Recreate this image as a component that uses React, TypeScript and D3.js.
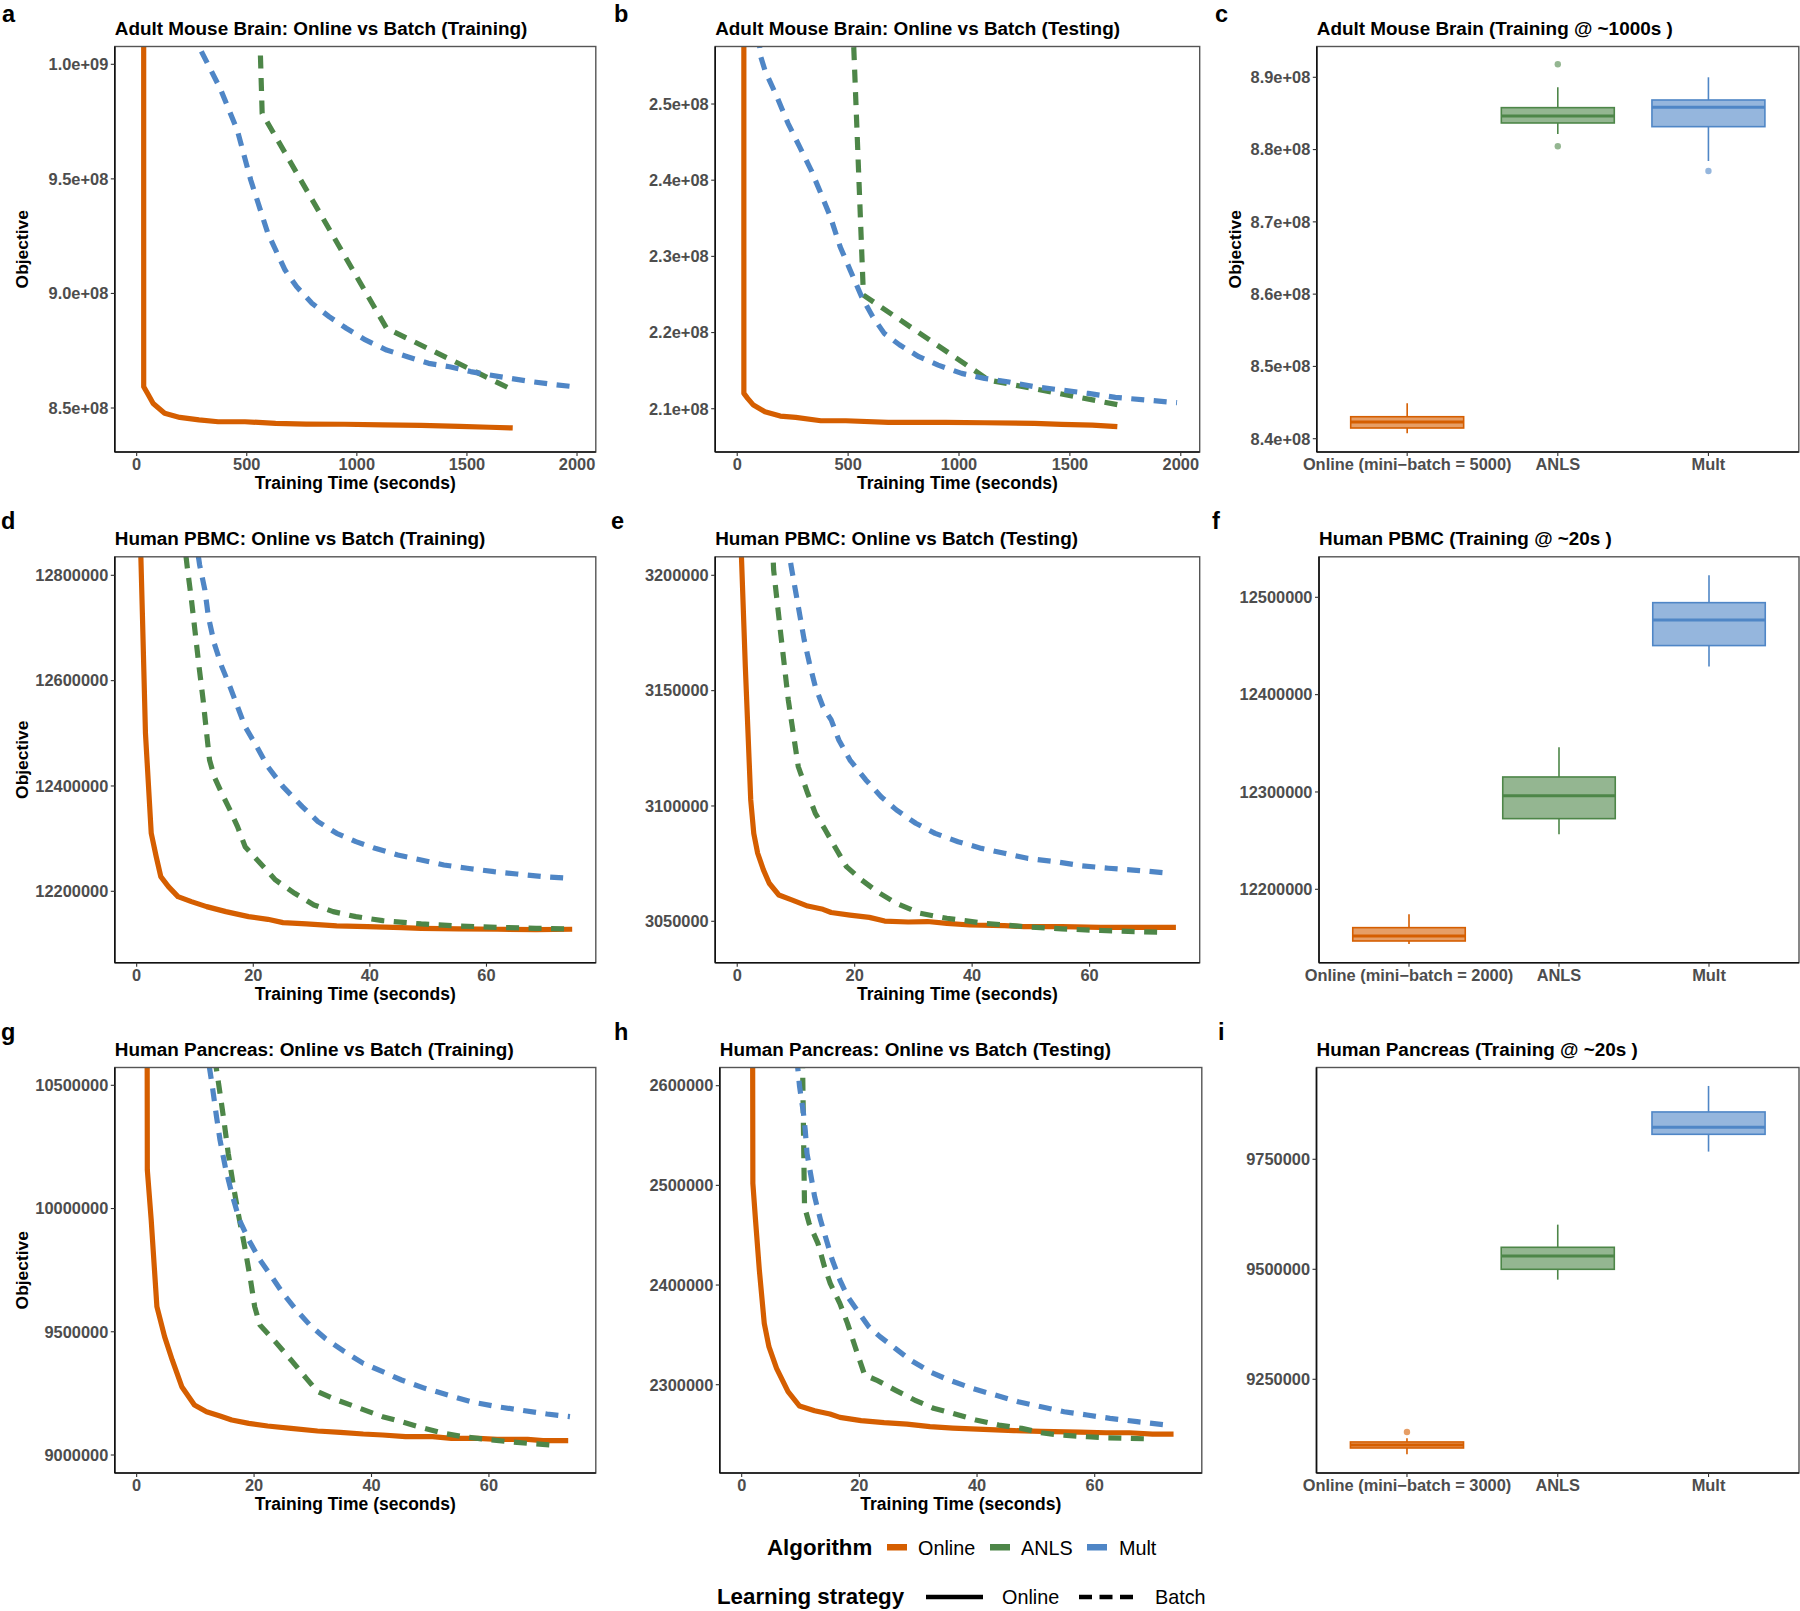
import React from 'react';
import * as d3 from 'd3';

// ---------- colours ----------
const COL: Record<string, string> = { Online: '#D55E00', ANLS: '#4D8648', Mult: '#4F86C6' };

// ---------- Panel a : Adult Mouse Brain (Training) ----------
const aOnlineTime = [0, 32, 49, 75, 127, 196, 283, 370, 492, 631, 770, 944, 1117, 1291, 1465, 1604, 1708];
const aOnlineObj = [5.0e10, 8.593e8, 8.564e8, 8.52e8, 8.477e8, 8.459e8, 8.448e8, 8.44e8, 8.44e8, 8.433e8, 8.43e8, 8.429e8, 8.426e8, 8.424e8, 8.42e8, 8.416e8, 8.413e8];
const aANLSTime = [0, 570, 1135, 1712];
const aANLSObj = [2.8e9, 9.786e8, 8.848e8, 8.577e8];
const aMultTime = [0, 180, 283, 379, 457, 518, 596, 674, 726, 796, 874, 952, 1039, 1135, 1230, 1326, 1421, 1517, 1604, 1699, 1795, 1891, 1986];
const aMultObj = [1.15e9, 1.045e9, 1.0077e9, 9.895e8, 9.713e8, 9.495e8, 9.262e8, 9.102e8, 9.03e8, 8.957e8, 8.899e8, 8.848e8, 8.797e8, 8.753e8, 8.724e8, 8.695e8, 8.68e8, 8.659e8, 8.644e8, 8.629e8, 8.615e8, 8.603e8, 8.593e8];

// ---------- Panel b : Adult Mouse Brain (Testing) ----------
const bOnlineTime = [0, 30, 47, 73, 125, 194, 264, 377, 490, 681, 941, 1115, 1340, 1462, 1601, 1714];
const bOnlineObj = [1.5e10, 2.1201e8, 2.1136e8, 2.1048e8, 2.0961e8, 2.0904e8, 2.0886e8, 2.0842e8, 2.0842e8, 2.0821e8, 2.0821e8, 2.0816e8, 2.0807e8, 2.0794e8, 2.0786e8, 2.0764e8];
const bANLSTime = [0, 569, 1134, 1724];
const bANLSObj = [6.5e8, 2.2492e8, 2.1376e8, 2.1048e8];
const bMultTime = [85, 106, 127, 179, 229, 281, 333, 377, 420, 464, 509, 561, 611, 663, 733, 819, 906, 1012, 1115, 1219, 1340, 1462, 1583, 1705, 1844, 1983];
const bMultObj = [2.62e8, 2.562e8, 2.5425e8, 2.5096e8, 2.4746e8, 2.444e8, 2.4133e8, 2.3827e8, 2.3521e8, 2.3127e8, 2.2821e8, 2.247e8, 2.2208e8, 2.1989e8, 2.1836e8, 2.1683e8, 2.1573e8, 2.1464e8, 2.1398e8, 2.1354e8, 2.1289e8, 2.1245e8, 2.1201e8, 2.1149e8, 2.1114e8, 2.1079e8];

// ---------- Panel c : Adult Mouse Brain boxplot ----------
const cCats = ['Online (mini\u2212batch = 5000)', 'ANLS', 'Mult'];
const cWhiskerLow = [8.4074e8, 8.8216e8, 8.7842e8];
const cQ1 = [8.4148e8, 8.8368e8, 8.8317e8];
const cMedian = [8.4231e8, 8.8465e8, 8.8585e8];
const cQ3 = [8.4304e8, 8.858e8, 8.8686e8];
const cWhiskerHigh = [8.4489e8, 8.8862e8, 8.9e8];
const cOutliers = [[], [8.918e8, 8.8045e8], [8.7704e8]];

// ---------- Panel d : Human PBMC (Training) ----------
const dOnlineTime = [0, 0.98, 1.51, 2.5, 3.35, 4.14, 5.45, 7.09, 9.39, 12.0, 15.3, 19.2, 22.5, 25.1, 29.1, 34.3, 39.6, 45.5, 48.8, 55.3, 61.9, 68.5, 74.7];
const dOnlineObj = [13134000, 12727800, 12500000, 12310100, 12265800, 12227800, 12208900, 12189900, 12180400, 12170900, 12161400, 12151900, 12146800, 12140500, 12138000, 12134200, 12132900, 12131000, 12129700, 12128500, 12127900, 12127200, 12127900];
const dANLSTime = [8.0, 8.7, 9.4, 10.05, 10.7, 11.4, 12.0, 12.5, 13.3, 14.6, 16.0, 17.3, 18.6, 21.2, 23.8, 27.1, 30.4, 33.7, 37.6, 42.2, 48.8, 55.3, 61.9, 68.5, 73.7];
const dANLSObj = [12880000, 12813300, 12753100, 12689900, 12626600, 12563300, 12500000, 12449400, 12417700, 12386100, 12354400, 12322800, 12284800, 12253200, 12221500, 12196200, 12174100, 12161400, 12151900, 12144300, 12138000, 12134200, 12131600, 12129700, 12128500];
const dMultTime = [10.0, 10.8, 11.7, 12.3, 13.3, 14.6, 16.0, 17.3, 18.6, 20.6, 22.5, 25.1, 28.4, 31.1, 34.3, 37.6, 40.9, 44.8, 48.8, 52.7, 56.7, 61.3, 65.2, 69.8, 74.1];
const dMultObj = [12880000, 12819600, 12772100, 12721500, 12670900, 12626600, 12588600, 12550600, 12512700, 12474700, 12436700, 12398700, 12360800, 12332300, 12310100, 12294300, 12281600, 12269000, 12259500, 12250000, 12243700, 12237300, 12232900, 12227800, 12224700];

// ---------- Panel e : Human PBMC (Testing) ----------
const eOnlineTime = [0, 0.98, 1.38, 1.84, 2.3, 2.82, 3.48, 4.46, 5.45, 7.09, 9.39, 12.0, 14.6, 16.0, 19.2, 22.5, 25.1, 29.1, 32.4, 35.7, 39.6, 45.5, 48.8, 55.3, 61.9, 68.5, 74.7];
const eOnlineObj = [3260000, 3189300, 3160400, 3131500, 3102600, 3088100, 3079500, 3072300, 3066500, 3061400, 3059200, 3056600, 3055200, 3053800, 3052700, 3051700, 3050100, 3049700, 3049900, 3049100, 3048400, 3048100, 3047700, 3047700, 3047400, 3047400, 3047400];
const eANLSTime = [5.8, 6.2, 7.4, 8.7, 10.4, 12.0, 13.3, 15.0, 16.6, 18.6, 21.2, 23.8, 27.1, 31.1, 35.7, 42.2, 48.8, 55.3, 61.9, 68.5, 73.1];
const eANLSObj = [3225000, 3202300, 3174800, 3145900, 3117000, 3105500, 3096800, 3089600, 3082400, 3073700, 3067900, 3062900, 3057800, 3053500, 3051300, 3049100, 3047700, 3046700, 3046000, 3045500, 3045200];
const eMultTime = [8.5, 9.2, 10.0, 10.7, 11.4, 12.3, 13.3, 14.6, 16.0, 17.3, 19.2, 21.9, 24.5, 27.1, 30.4, 33.7, 37.6, 41.6, 45.5, 49.4, 54.0, 58.6, 63.2, 68.5, 73.7];
const eMultObj = [3215000, 3203700, 3192200, 3182100, 3172000, 3161800, 3151700, 3143000, 3137300, 3128600, 3119900, 3111300, 3104000, 3098300, 3092500, 3088100, 3084500, 3081600, 3079500, 3077300, 3075900, 3074100, 3073000, 3072000, 3070800];

// ---------- Panel f : Human PBMC boxplot ----------
const fCats = ['Online (mini\u2212batch = 2000)', 'ANLS', 'Mult'];
const fWhiskerLow = [12143800, 12256500, 12428800];
const fQ1 = [12146900, 12272600, 12450400];
const fMedian = [12152100, 12296200, 12476700];
const fQ3 = [12160600, 12315400, 12494500];
const fWhiskerHigh = [12174300, 12345900, 12522600];
const fOutliers = [[], [], []];

// ---------- Panel g : Human Pancreas (Training) ----------
const gOnlineTime = [0, 1.82, 2.48, 3.45, 4.76, 6.06, 7.69, 9.84, 11.9, 14.2, 16.2, 19.1, 22.3, 26.3, 30.8, 34.7, 38.6, 41.9, 45.8, 50.4, 53.6, 58.2, 61.4, 66.6, 69.2, 73.5];
const gOnlineObj = [40000000, 10156400, 9953500, 9601900, 9480100, 9385500, 9277300, 9202900, 9175800, 9158200, 9142000, 9128500, 9117700, 9108200, 9097400, 9092000, 9085200, 9081200, 9074400, 9074400, 9067600, 9067600, 9063600, 9063600, 9058200, 9058200];
const gANLSTime = [13.0, 13.55, 14.2, 14.85, 15.6, 16.5, 17.3, 18.4, 19.4, 20.1, 21.0, 23.6, 26.3, 28.9, 30.8, 34.1, 38.0, 41.9, 45.1, 48.4, 52.3, 55.6, 59.5, 63.4, 66.6, 70.6];
const gANLSObj = [10700000, 10572200, 10467500, 10359300, 10224100, 10088800, 9980600, 9845300, 9710100, 9601900, 9527500, 9459900, 9385500, 9311100, 9257000, 9223200, 9189400, 9155500, 9135300, 9112300, 9087900, 9074400, 9063600, 9054100, 9047300, 9040600];
const gMultTime = [11.0, 12.4, 12.9, 13.6, 14.2, 15.2, 16.2, 17.5, 19.1, 21.0, 23.0, 24.9, 27.2, 29.5, 32.1, 35.4, 38.6, 41.9, 45.1, 49.1, 53.0, 56.9, 61.4, 65.3, 69.9, 73.8];
const gMultObj = [10850000, 10572200, 10494500, 10372800, 10278100, 10156400, 10061700, 9953500, 9872400, 9791200, 9723600, 9656000, 9588300, 9527500, 9473400, 9419300, 9371900, 9338100, 9304300, 9270500, 9243500, 9216400, 9196100, 9182600, 9166400, 9155500];

// ---------- Panel h : Human Pancreas (Testing) ----------
const hOnlineTime = [0, 1.9, 2.35, 3.0, 3.84, 4.63, 5.93, 7.88, 9.84, 12.4, 15.0, 16.7, 20.3, 24.2, 28.1, 32.0, 35.9, 41.1, 46.3, 50.9, 57.4, 61.95, 65.9, 69.8, 73.4];
const hOnlineObj = [9000000, 2502000, 2465200, 2415000, 2361500, 2338100, 2316400, 2293000, 2278600, 2273900, 2270600, 2267200, 2263900, 2261900, 2260500, 2257900, 2256500, 2255200, 2253900, 2253200, 2252500, 2251800, 2251800, 2250500, 2250500];
const hANLSTime = [0, 10.68, 11.47, 12.96, 14.07, 15.05, 16.68, 17.98, 19.28, 20.9, 22.9, 26.1, 29.4, 32.6, 35.9, 39.8, 43.7, 47.6, 50.9, 54.1, 58.7, 61.95, 65.9, 69.8];
const hANLSObj = [7100000, 2478600, 2461800, 2441800, 2418400, 2401700, 2381600, 2361500, 2338100, 2309700, 2304700, 2294600, 2284600, 2276300, 2271200, 2264600, 2259500, 2256200, 2251800, 2249500, 2247800, 2246800, 2246200, 2245500];
const hMultTime = [9.0, 9.84, 10.5, 10.8, 11.1, 11.8, 12.4, 13.4, 14.4, 15.4, 16.7, 18.0, 19.6, 21.6, 23.5, 26.1, 28.7, 32.0, 35.2, 39.2, 43.1, 47.0, 50.9, 54.8, 58.7, 62.6, 67.2, 72.4];
const hMultObj = [2650000, 2599000, 2572200, 2555500, 2532100, 2508700, 2488600, 2465200, 2445100, 2425100, 2405000, 2388300, 2374900, 2358200, 2348200, 2336400, 2324700, 2313000, 2304700, 2296300, 2289600, 2282900, 2277900, 2272900, 2269600, 2266200, 2262900, 2259500];

// ---------- Panel i : Human Pancreas boxplot ----------
const iCats = ['Online (mini\u2212batch = 3000)', 'ANLS', 'Mult'];
const iWhiskerLow = [9079500, 9476500, 9767500];
const iQ1 = [9093900, 9500000, 9806800];
const iMedian = [9100800, 9530300, 9822700];
const iQ3 = [9107600, 9550000, 9857600];
const iWhiskerHigh = [9115900, 9601500, 9916700];
const iOutliers = [[9130300], [], []];

// ---------- ticks ----------
const timeTicksLong = [0, 500, 1000, 1500, 2000];
const timeTicksShort = [0, 20, 40, 60];
const aYTicks = [8.5e8, 9.0e8, 9.5e8, 1.0e9];
const bYTicks = [2.1e8, 2.2e8, 2.3e8, 2.4e8, 2.5e8];
const cYTicks = [8.4e8, 8.5e8, 8.6e8, 8.7e8, 8.8e8, 8.9e8];
const dYTicks = [12200000, 12400000, 12600000, 12800000];
const eYTicks = [3050000, 3100000, 3150000, 3200000];
const fYTicks = [12200000, 12300000, 12400000, 12500000];
const gYTicks = [9000000, 9500000, 10000000, 10500000];
const hYTicks = [2300000, 2400000, 2500000, 2600000];
const iYTicks = [9250000, 9500000, 9750000];

const FONT = "'Liberation Sans', Arial, Helvetica, sans-serif";
const TICK_COL = '#4D4D4D';
const LINE_W = 5.2;
const DASH = '13 9.5';

const sci = (v: number) => {
  const [m, e] = v.toExponential(1).split('e');
  const sign = e[0];
  return `${m}e${sign}${e.slice(1).padStart(2, '0')}`;
};
const intFmt = d3.format('d');

type Box = { x: number; y: number; w: number; h: number };
type Series = { name: string; t: number[]; v: number[]; dashed: boolean };

function Frame({ box }: { box: Box }) {
  return (
    <g>
      <rect x={box.x} y={box.y} width={box.w} height={box.h} fill="none" stroke="#555" strokeWidth={1.4} />
      <line x1={box.x} x2={box.x} y1={box.y} y2={box.y + box.h} stroke="#111" strokeWidth={1.6} />
      <line x1={box.x} x2={box.x + box.w} y1={box.y + box.h} y2={box.y + box.h} stroke="#111" strokeWidth={1.6} />
    </g>
  );
}

function YAxis({ box, y, ticks, fmt }: { box: Box; y: d3.ScaleLinear<number, number>; ticks: number[]; fmt: (v: number) => string }) {
  return (
    <g>
      {ticks.map((t) => (
        <g key={t}>
          <line x1={box.x - 4} x2={box.x} y1={y(t)} y2={y(t)} stroke="#333" strokeWidth={1.1} />
          <text x={box.x - 6.5} y={y(t) + 5.8} textAnchor="end" fontFamily={FONT} fontWeight="bold" fontSize={16.4} fill={TICK_COL}>
            {fmt(t)}
          </text>
        </g>
      ))}
    </g>
  );
}

function Headings({ box, title, letter, letterX, yLabel, yLabelX }: { box: Box; title: string; letter: string; letterX: number; yLabel?: boolean; yLabelX?: number }) {
  const letterY = Math.max(box.y - 27.5, 21.5);
  return (
    <g>
      <text x={letterX} y={letterY} fontFamily={FONT} fontWeight="bold" fontSize={23.5} fill="#000">{letter}</text>
      <text x={box.x} y={box.y - 12} fontFamily={FONT} fontWeight="bold" fontSize={18.9} fill="#000">{title}</text>
      {yLabel && (
        <text transform={`translate(${(yLabelX ?? 22) + 6.2},${box.y + box.h / 2}) rotate(-90)`} textAnchor="middle" fontFamily={FONT} fontWeight="bold" fontSize={17.4} fill="#000">
          Objective
        </text>
      )}
    </g>
  );
}

function LinePanel(props: {
  id: string; box: Box; xDomain: [number, number]; yDomain: [number, number]; xTicks: number[]; yTicks: number[];
  fmt: (v: number) => string; series: Series[]; title: string; letter: string; letterX: number; yLabel?: boolean; yLabelX?: number;
}) {
  const { id, box, xDomain, yDomain, xTicks, yTicks, fmt, series } = props;
  const x = d3.scaleLinear().domain(xDomain).range([box.x, box.x + box.w]);
  const y = d3.scaleLinear().domain(yDomain).range([box.y + box.h, box.y]);
  const line = d3.line<[number, number]>().x((d) => x(d[0])).y((d) => y(d[1]));
  return (
    <g>
      <defs>
        <clipPath id={`clip-${id}`}>
          <rect x={box.x} y={box.y} width={box.w} height={box.h} />
        </clipPath>
      </defs>
      <g clipPath={`url(#clip-${id})`}>
        {series.map((s) => (
          <path
            key={s.name}
            d={line(s.t.map((t, i) => [t, s.v[i]] as [number, number])) || ''}
            fill="none"
            stroke={COL[s.name]}
            strokeWidth={LINE_W}
            strokeDasharray={s.dashed ? DASH : undefined}
            strokeLinejoin="round"
          />
        ))}
      </g>
      <Frame box={box} />
      <YAxis box={box} y={y} ticks={yTicks} fmt={fmt} />
      {xTicks.map((t) => (
        <g key={t}>
          <line x1={x(t)} x2={x(t)} y1={box.y + box.h} y2={box.y + box.h + 4} stroke="#333" strokeWidth={1.1} />
          <text x={x(t)} y={box.y + box.h + 18} textAnchor="middle" fontFamily={FONT} fontWeight="bold" fontSize={16.4} fill={TICK_COL}>
            {t}
          </text>
        </g>
      ))}
      <text x={box.x + box.w / 2} y={box.y + box.h + 37} textAnchor="middle" fontFamily={FONT} fontWeight="bold" fontSize={17.5} fill="#000">
        Training Time (seconds)
      </text>
      <Headings box={box} title={props.title} letter={props.letter} letterX={props.letterX} yLabel={props.yLabel} yLabelX={props.yLabelX} />
    </g>
  );
}

function BoxPanel(props: {
  box: Box; cats: string[]; wl: number[]; q1: number[]; med: number[]; q3: number[]; wh: number[]; out: number[][];
  yDomain: [number, number]; yTicks: number[]; fmt: (v: number) => string; title: string; letter: string; letterX: number; yLabel?: boolean; yLabelX?: number;
}) {
  const { box, cats, wl, q1, med, q3, wh, out, yDomain, yTicks, fmt } = props;
  const x = d3.scalePoint<string>().domain(cats).range([box.x, box.x + box.w]).padding(0.6);
  const y = d3.scaleLinear().domain(yDomain).range([box.y + box.h, box.y]);
  const bw = x.step() * 0.75;
  const names = ['Online', 'ANLS', 'Mult'];
  return (
    <g>
      {cats.map((c, i) => {
        const cx = x(c)!;
        const col = COL[names[i]];
        return (
          <g key={c}>
            <line x1={cx} x2={cx} y1={y(wh[i])} y2={y(q3[i])} stroke={col} strokeWidth={1.6} />
            <line x1={cx} x2={cx} y1={y(q1[i])} y2={y(wl[i])} stroke={col} strokeWidth={1.6} />
            <rect x={cx - bw / 2} y={y(q3[i])} width={bw} height={y(q1[i]) - y(q3[i])} fill={col} fillOpacity={0.6} stroke={col} strokeWidth={1.6} />
            <line x1={cx - bw / 2} x2={cx + bw / 2} y1={y(med[i])} y2={y(med[i])} stroke={col} strokeWidth={3} />
            {out[i].map((o, k) => (
              <circle key={k} cx={cx} cy={y(o)} r={3.2} fill={col} fillOpacity={0.6} />
            ))}
          </g>
        );
      })}
      <Frame box={box} />
      <YAxis box={box} y={y} ticks={yTicks} fmt={fmt} />
      {cats.map((c) => (
        <g key={c}>
          <line x1={x(c)!} x2={x(c)!} y1={box.y + box.h} y2={box.y + box.h + 4} stroke="#333" strokeWidth={1.1} />
          <text x={x(c)!} y={box.y + box.h + 18} textAnchor="middle" fontFamily={FONT} fontWeight="bold" fontSize={16.4} fill={TICK_COL}>
            {c}
          </text>
        </g>
      ))}
      <Headings box={box} title={props.title} letter={props.letter} letterX={props.letterX} yLabel={props.yLabel} yLabelX={props.yLabelX} />
    </g>
  );
}

const S = (name: string, t: number[], v: number[], dashed: boolean): Series => ({ name, t, v, dashed });

export default function App() {
  const R1 = 46.5, R2 = 556.8, R3 = 1067.5;
  const H1 = 405.5, H2 = 405.9, H3 = 405.5;
  const longX: [number, number] = [-99.3, 2085.3];
  const shortX1: [number, number] = [-3.75, 78.75];
  const shortX2: [number, number] = [-3.72, 78.2];
  return (
    <svg width={1800} height={1611} style={{ position: 'absolute', left: 0, top: 0, background: '#fff' }}>
      <rect x={0} y={0} width={1800} height={1611} fill="#fff" />
      <LinePanel id="a" box={{ x: 114.8, y: R1, w: 481, h: H1 }} xDomain={longX} yDomain={[8.308e8, 1.00777e9]}
        xTicks={timeTicksLong} yTicks={aYTicks} fmt={sci} title="Adult Mouse Brain: Online vs Batch (Training)" letter="a" letterX={2} yLabel yLabelX={21.8}
        series={[S('Online', aOnlineTime, aOnlineObj, false), S('ANLS', aANLSTime, aANLSObj, true), S('Mult', aMultTime, aMultObj, true)]} />
      <LinePanel id="b" box={{ x: 715.2, y: R1, w: 484.5, h: H1 }} xDomain={longX} yDomain={[2.0432e8, 2.5755e8]}
        xTicks={timeTicksLong} yTicks={bYTicks} fmt={sci} title="Adult Mouse Brain: Online vs Batch (Testing)" letter="b" letterX={614}
        series={[S('Online', bOnlineTime, bOnlineObj, false), S('ANLS', bANLSTime, bANLSObj, true), S('Mult', bMultTime, bMultObj, true)]} />
      <BoxPanel box={{ x: 1316.8, y: R1, w: 482, h: H1 }} cats={cCats} wl={cWhiskerLow} q1={cQ1} med={cMedian} q3={cQ3} wh={cWhiskerHigh} out={cOutliers}
        yDomain={[8.3816e8, 8.9426e8]} yTicks={cYTicks} fmt={sci} title="Adult Mouse Brain (Training @ ~1000s )" letter="c" letterX={1215} yLabel yLabelX={1234.4} />

      <LinePanel id="d" box={{ x: 114.8, y: R2, w: 481, h: H2 }} xDomain={shortX1} yDomain={[12064430, 12835130]}
        xTicks={timeTicksShort} yTicks={dYTicks} fmt={intFmt} title="Human PBMC: Online vs Batch (Training)" letter="d" letterX={1} yLabel yLabelX={21.8}
        series={[S('Online', dOnlineTime, dOnlineObj, false), S('ANLS', dANLSTime, dANLSObj, true), S('Mult', dMultTime, dMultObj, true)]} />
      <LinePanel id="e" box={{ x: 715.2, y: R2, w: 484.5, h: H2 }} xDomain={shortX1} yDomain={[3032050, 3208020]}
        xTicks={timeTicksShort} yTicks={eYTicks} fmt={intFmt} title="Human PBMC: Online vs Batch (Testing)" letter="e" letterX={611}
        series={[S('Online', eOnlineTime, eOnlineObj, false), S('ANLS', eANLSTime, eANLSObj, true), S('Mult', eMultTime, eMultObj, true)]} />
      <BoxPanel box={{ x: 1319, y: R2, w: 480, h: H2 }} cats={fCats} wl={fWhiskerLow} q1={fQ1} med={fMedian} q3={fQ3} wh={fWhiskerHigh} out={fOutliers}
        yDomain={[12124590, 12541610]} yTicks={fYTicks} fmt={intFmt} title="Human PBMC (Training @ ~20s )" letter="f" letterX={1212} />

      <LinePanel id="g" box={{ x: 114.8, y: R3, w: 481, h: H3 }} xDomain={shortX2} yDomain={[8926970, 10572220]}
        xTicks={timeTicksShort} yTicks={gYTicks} fmt={intFmt} title="Human Pancreas: Online vs Batch (Training)" letter="g" letterX={1} yLabel yLabelX={21.8}
        series={[S('Online', gOnlineTime, gOnlineObj, false), S('ANLS', gANLSTime, gANLSObj, true), S('Mult', gMultTime, gMultObj, true)]} />
      <LinePanel id="h" box={{ x: 719.8, y: R3, w: 482, h: H3 }} xDomain={shortX2} yDomain={[2211410, 2618260]}
        xTicks={timeTicksShort} yTicks={hYTicks} fmt={intFmt} title="Human Pancreas: Online vs Batch (Testing)" letter="h" letterX={614}
        series={[S('Online', hOnlineTime, hOnlineObj, false), S('ANLS', hANLSTime, hANLSObj, true), S('Mult', hMultTime, hMultObj, true)]} />
      <BoxPanel box={{ x: 1316.5, y: R3, w: 482.5, h: H3 }} cats={iCats} wl={iWhiskerLow} q1={iQ1} med={iMedian} q3={iQ3} wh={iWhiskerHigh} out={iOutliers}
        yDomain={[9037050, 9958630]} yTicks={iYTicks} fmt={intFmt} title="Human Pancreas (Training @ ~20s )" letter="i" letterX={1218} />

      {/* Legend */}
      <g fontFamily={FONT}>
        <text x={767} y={1555} fontWeight="bold" fontSize={22.3} fill="#000">Algorithm</text>
        <rect x={887} y={1544} width={20} height={6.5} fill={COL.Online} />
        <text x={918} y={1555} fontSize={19.8} fill="#000">Online</text>
        <rect x={990} y={1544} width={20} height={6.5} fill={COL.ANLS} />
        <text x={1021} y={1555} fontSize={19.8} fill="#000">ANLS</text>
        <rect x={1087} y={1544} width={20} height={6.5} fill={COL.Mult} />
        <text x={1119} y={1555} fontSize={19.8} fill="#000">Mult</text>

        <text x={717} y={1604} fontWeight="bold" fontSize={22.3} fill="#000">Learning strategy</text>
        <line x1={926} x2={983} y1={1597} y2={1597} stroke="#000" strokeWidth={4.5} />
        <text x={1002} y={1604} fontSize={19.8} fill="#000">Online</text>
        <line x1={1079} x2={1133} y1={1597} y2={1597} stroke="#000" strokeWidth={4.5} strokeDasharray="13 7.5" />
        <text x={1155} y={1604} fontSize={19.8} fill="#000">Batch</text>
      </g>
    </svg>
  );
}
